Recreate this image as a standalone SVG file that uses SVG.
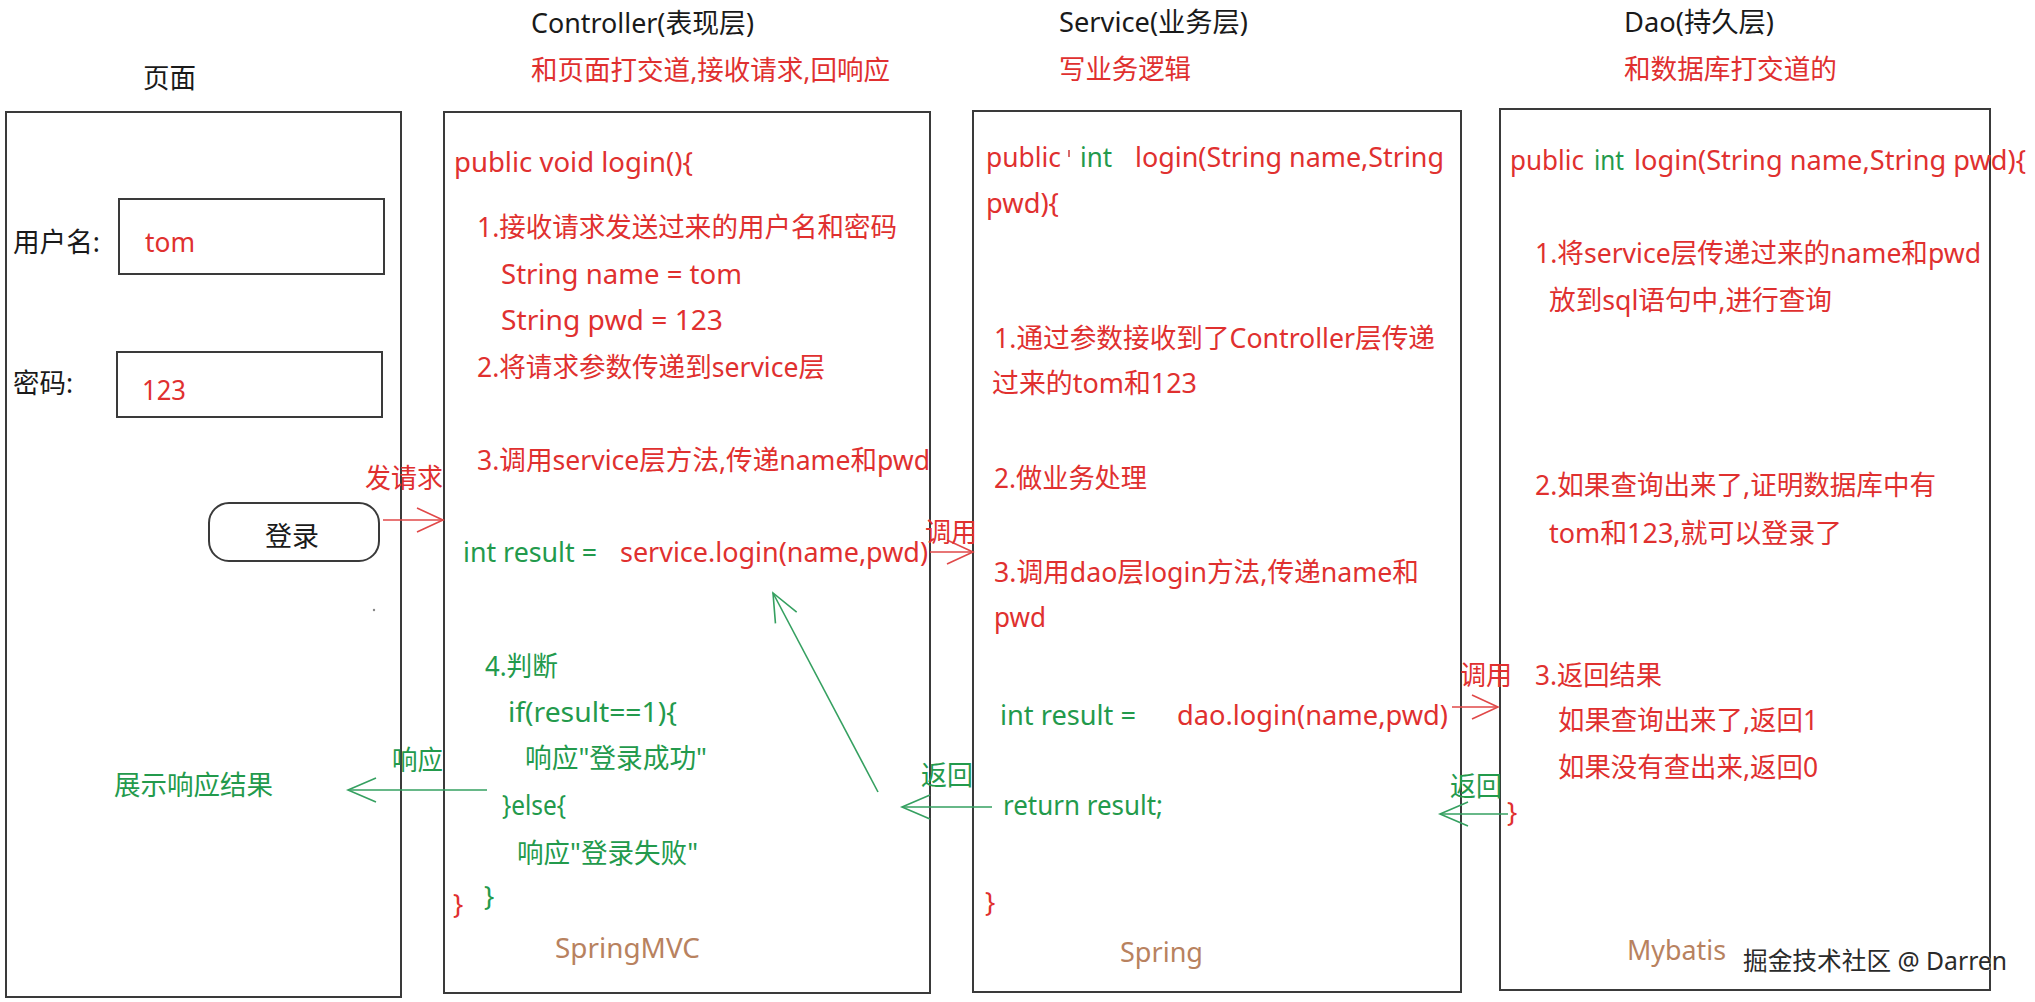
<svg xmlns="http://www.w3.org/2000/svg" width="2035" height="1002" viewBox="0 0 2035 1002">
<style>
text{font-family:'Noto Sans','Noto Sans CJK SC',sans-serif;font-size:27px}
.k{fill:#1a1a1a}
.r{fill:#e0302f}
.g{fill:#239a4c}
.b{fill:#b8825f}
.box{fill:none;stroke:#3a3a3a;stroke-width:2}
.ar{fill:none;stroke:#e04848;stroke-width:1.6}
.ag{fill:none;stroke:#35a060;stroke-width:1.6}
.wm{fill:#2a2a2a;font-size:25px;stroke:#fff;stroke-width:0.6;paint-order:stroke}
</style>
<defs>
<marker id="mr" markerUnits="userSpaceOnUse" markerWidth="30" markerHeight="30" refX="26" refY="12" orient="auto" overflow="visible"><path d="M0,0 L26,12 L0,24" fill="none" stroke="#e04848" stroke-width="1.6"/></marker>
<marker id="mg" markerUnits="userSpaceOnUse" markerWidth="30" markerHeight="30" refX="28" refY="12" orient="auto" overflow="visible"><path d="M0,0 L28,12 L0,24" fill="none" stroke="#35a060" stroke-width="1.6"/></marker>
</defs>
<rect width="2035" height="1002" fill="#fff"/>

<g id="headers">
<text class="k" x="143" y="88" textLength="53" lengthAdjust="spacingAndGlyphs">页面</text>
<text class="k" x="531" y="33" textLength="223" lengthAdjust="spacingAndGlyphs">Controller(表现层)</text>
<text class="r" x="531" y="80" textLength="359" lengthAdjust="spacingAndGlyphs">和页面打交道,接收请求,回响应</text>
<text class="k" x="1059" y="32" textLength="189" lengthAdjust="spacingAndGlyphs">Service(业务层)</text>
<text class="r" x="1059" y="79" textLength="132" lengthAdjust="spacingAndGlyphs">写业务逻辑</text>
<text class="k" x="1624" y="32" textLength="150" lengthAdjust="spacingAndGlyphs">Dao(持久层)</text>
<text class="r" x="1624" y="79" textLength="213" lengthAdjust="spacingAndGlyphs">和数据库打交道的</text>
</g>

<g id="page">
<rect class="box" x="6" y="112" width="395" height="885"/>
<text class="k" x="13" y="252" textLength="87" lengthAdjust="spacingAndGlyphs">用户名:</text>
<rect class="box" x="119" y="199" width="265" height="75"/>
<text class="r" x="145" y="252" textLength="50" lengthAdjust="spacingAndGlyphs">tom</text>
<text class="k" x="13" y="393" textLength="60" lengthAdjust="spacingAndGlyphs">密码:</text>
<rect class="box" x="117" y="352" width="265" height="65"/>
<text class="r" x="142" y="400" textLength="44" lengthAdjust="spacingAndGlyphs">123</text>
<g id="login-button">
<rect class="box" x="209" y="503" width="170" height="58" rx="20"/>
<text class="k" x="292" y="546" text-anchor="middle">登录</text>
</g>
<circle cx="374" cy="610" r="1.2" fill="#888"/>
<text class="g" x="114" y="795" textLength="159" lengthAdjust="spacingAndGlyphs">展示响应结果</text>
</g>

<g id="controller">
<rect class="box" x="444" y="112" width="486" height="881"/>
<text class="r" x="454" y="172" textLength="239" lengthAdjust="spacingAndGlyphs">public void login(){</text>
<text class="r" x="477" y="237" textLength="420" lengthAdjust="spacingAndGlyphs">1.接收请求发送过来的用户名和密码</text>
<text class="r" x="501" y="284" textLength="241" lengthAdjust="spacingAndGlyphs">String name = tom</text>
<text class="r" x="501" y="330" textLength="222" lengthAdjust="spacingAndGlyphs">String pwd = 123</text>
<text class="r" x="477" y="377" textLength="348" lengthAdjust="spacingAndGlyphs">2.将请求参数传递到service层</text>
<text class="r" x="477" y="470" textLength="453" lengthAdjust="spacingAndGlyphs">3.调用service层方法,传递name和pwd</text>
<text class="g" x="463" y="562" textLength="134" lengthAdjust="spacingAndGlyphs">int result =</text>
<text class="r" x="620" y="562" textLength="308" lengthAdjust="spacingAndGlyphs">service.login(name,pwd)</text>
<text class="g" x="485" y="676" textLength="73" lengthAdjust="spacingAndGlyphs">4.判断</text>
<text class="g" x="508" y="722" textLength="169" lengthAdjust="spacingAndGlyphs">if(result==1){</text>
<text class="g" x="525" y="768" textLength="182" lengthAdjust="spacingAndGlyphs">响应"登录成功"</text>
<text class="g" x="502" y="815" textLength="64" lengthAdjust="spacingAndGlyphs">}else{</text>
<text class="g" x="517" y="863" textLength="181" lengthAdjust="spacingAndGlyphs">响应"登录失败"</text>
<text class="g" x="484" y="906">}</text>
<text class="r" x="453" y="914">}</text>
<text class="b" x="555" y="958" textLength="145" lengthAdjust="spacingAndGlyphs">SpringMVC</text>
</g>

<g id="service">
<rect class="box" x="973" y="111" width="488" height="881"/>
<text class="r" x="986" y="167" textLength="75" lengthAdjust="spacingAndGlyphs">public</text>
<line x1="1069" y1="150" x2="1069" y2="157" stroke="#d86a6a" stroke-width="2"/>
<text class="g" x="1080" y="167" textLength="32" lengthAdjust="spacingAndGlyphs">int</text>
<text class="r" x="1135" y="167" textLength="309" lengthAdjust="spacingAndGlyphs">login(String name,String</text>
<text class="r" x="986" y="213" textLength="73" lengthAdjust="spacingAndGlyphs">pwd){</text>
<text class="r" x="994" y="348" textLength="441" lengthAdjust="spacingAndGlyphs">1.通过参数接收到了Controller层传递</text>
<text class="r" x="992" y="393" textLength="205" lengthAdjust="spacingAndGlyphs">过来的tom和123</text>
<text class="r" x="994" y="488" textLength="153" lengthAdjust="spacingAndGlyphs">2.做业务处理</text>
<text class="r" x="994" y="582" textLength="425" lengthAdjust="spacingAndGlyphs">3.调用dao层login方法,传递name和</text>
<text class="r" x="994" y="627" textLength="52" lengthAdjust="spacingAndGlyphs">pwd</text>
<text class="g" x="1000" y="725" textLength="136" lengthAdjust="spacingAndGlyphs">int result =</text>
<text class="r" x="1177" y="725" textLength="271" lengthAdjust="spacingAndGlyphs">dao.login(name,pwd)</text>
<text class="g" x="1003" y="815" textLength="160" lengthAdjust="spacingAndGlyphs">return result;</text>
<text class="r" x="985" y="912">}</text>
<text class="b" x="1120" y="962" textLength="83" lengthAdjust="spacingAndGlyphs">Spring</text>
</g>

<g id="dao">
<rect class="box" x="1500" y="109" width="490" height="881"/>
<text class="r" x="1510" y="170" textLength="74" lengthAdjust="spacingAndGlyphs">public</text>
<text class="g" x="1594" y="170" textLength="30" lengthAdjust="spacingAndGlyphs">int</text>
<text class="r" x="1634" y="170" textLength="392" lengthAdjust="spacingAndGlyphs">login(String name,String pwd){</text>
<text class="r" x="1535" y="263" textLength="446" lengthAdjust="spacingAndGlyphs">1.将service层传递过来的name和pwd</text>
<text class="r" x="1549" y="310" textLength="283" lengthAdjust="spacingAndGlyphs">放到sql语句中,进行查询</text>
<text class="r" x="1535" y="495" textLength="401" lengthAdjust="spacingAndGlyphs">2.如果查询出来了,证明数据库中有</text>
<text class="r" x="1549" y="543" textLength="293" lengthAdjust="spacingAndGlyphs">tom和123,就可以登录了</text>
<text class="r" x="1535" y="685" textLength="127" lengthAdjust="spacingAndGlyphs">3.返回结果</text>
<text class="r" x="1558" y="730" textLength="260" lengthAdjust="spacingAndGlyphs">如果查询出来了,返回1</text>
<text class="r" x="1558" y="777" textLength="260" lengthAdjust="spacingAndGlyphs">如果没有查出来,返回0</text>
<text class="r" x="1507" y="822">}</text>
<text class="b" x="1627" y="960" textLength="99" lengthAdjust="spacingAndGlyphs">Mybatis</text>
</g>

<g id="connectors">
<line class="ar" x1="383" y1="520" x2="443" y2="520" marker-end="url(#mr)"/>
<text class="r" x="365" y="488" textLength="78" lengthAdjust="spacingAndGlyphs">发请求</text>
<line class="ar" x1="930" y1="552" x2="973" y2="552" marker-end="url(#mr)"/>
<text class="r" x="925" y="542" textLength="52" lengthAdjust="spacingAndGlyphs">调用</text>
<line class="ar" x1="1452" y1="707" x2="1498" y2="707" marker-end="url(#mr)"/>
<text class="r" x="1460" y="685" textLength="52" lengthAdjust="spacingAndGlyphs">调用</text>
<line class="ag" x1="1508" y1="814" x2="1440" y2="814" marker-end="url(#mg)"/>
<text class="g" x="1450" y="796" textLength="52" lengthAdjust="spacingAndGlyphs">返回</text>
<line class="ag" x1="992" y1="807" x2="902" y2="807" marker-end="url(#mg)"/>
<text class="g" x="921" y="785" textLength="52" lengthAdjust="spacingAndGlyphs">返回</text>
<line class="ag" x1="878" y1="792" x2="773" y2="593" marker-end="url(#mg)"/>
<line class="ag" x1="487" y1="790" x2="348" y2="790" marker-end="url(#mg)"/>
<text class="g" x="392" y="770" textLength="51" lengthAdjust="spacingAndGlyphs">响应</text>
</g>

<text class="wm" x="1743" y="970" textLength="264" lengthAdjust="spacingAndGlyphs">掘金技术社区 @ Darren</text>
</svg>
